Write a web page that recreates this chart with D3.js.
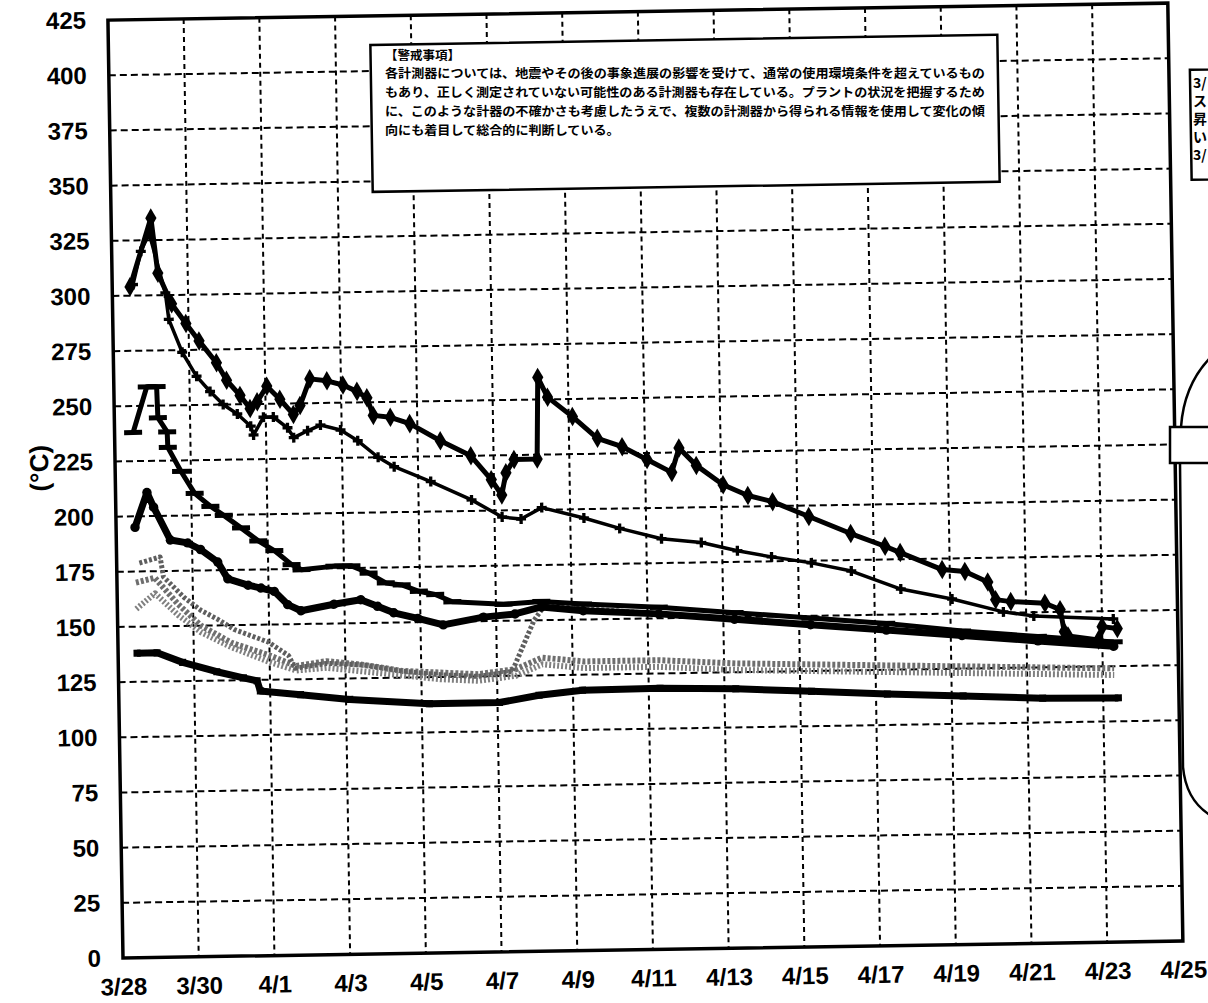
<!DOCTYPE html>
<html>
<head>
<meta charset="utf-8">
<script src="https://cdn.jsdelivr.net/npm/d3@7"></script>
<style>
  body { margin: 0; background: #fff; }
  text { font-family: "Liberation Sans", Arial, sans-serif; font-weight: bold; fill: #000; }
  .jp { font-family: "Noto Sans CJK JP", sans-serif; }
</style>
</head>
<body>
<div id="chart"></div>
<script>
/* DATA (days counted from 3/28 0:00) */
const dayTicks = [0, 2, 4, 6, 8, 10, 12, 14, 16, 18, 20, 22, 24, 26, 28];
const dayLabels = ['3/28', '3/30', '4/1', '4/3', '4/5', '4/7', '4/9', '4/11', '4/13', '4/15', '4/17', '4/19', '4/21', '4/23', '4/25'];
const tempTicks = [0, 25, 50, 75, 100, 125, 150, 175, 200, 225, 250, 275, 300, 325, 350, 375, 400, 425];

const aDays = [0.47, 1.05, 1.21, 1.56, 1.93, 2.27, 2.72, 2.98, 3.33, 3.59, 3.78, 4.04, 4.38, 4.73, 4.91, 5.18, 5.63, 6.05, 6.42, 6.68, 6.84, 7.29, 7.8, 8.6, 9.4, 9.93, 10.2, 10.32, 10.54, 11.15, 11.2, 11.45, 12.1, 12.75, 13.4, 14.05, 14.7, 14.9, 15.35, 16.05, 16.7, 17.35, 18.3, 19.4, 20.3, 20.7, 21.8, 22.4, 23.0, 23.2, 23.6, 24.5, 24.9, 25.0, 25.1, 25.9, 26.0, 26.4];
const aTemps = [304, 335, 310, 296, 287, 279, 269, 261, 254, 248, 251, 258, 252, 245, 249, 261, 260, 258, 255, 252, 244, 243, 240, 232, 225, 214, 207, 217, 223, 223, 260, 251, 242, 232, 228, 222, 216, 227, 219, 210, 205, 202, 195, 187, 181, 178, 170, 169, 164, 156, 155, 154, 151, 141, 139, 137, 143, 142];

const bDays = [0.55, 0.77, 1.0, 1.4, 1.48, 1.82, 2.19, 2.54, 2.88, 3.25, 3.6, 3.67, 3.94, 4.2, 4.57, 4.73, 5.1, 5.44, 5.97, 6.42, 6.95, 7.37, 8.33, 9.4, 10.2, 10.7, 11.25, 12.36, 13.3, 14.4, 15.45, 16.4, 17.3, 18.35, 19.4, 20.7, 22.05, 23.4, 24.2, 26.3];
const bTemps = [305, 320, 328, 301, 289, 274, 263, 256, 250, 245.6, 240, 236, 244, 244, 239, 234.5, 237.5, 240, 237.6, 232.6, 225, 220.6, 213.6, 205, 197, 196, 201, 196, 191, 186, 184, 180, 177, 174, 170, 161.5, 156.6, 150.4, 148.3, 146.4];

const cDays = [0.49, 0.87, 1.13, 1.15, 1.39, 1.4, 1.74, 2.09, 2.5, 2.85, 3.3, 3.75, 4.17, 4.62, 4.88, 5.75, 6.2, 6.65, 7.1, 7.52, 7.97, 8.4, 8.85, 10.2, 11.2, 12.3, 14.3, 16.3, 18.3, 20.3, 22.3, 24.3, 26.3];
const cTemps = [238, 258.6, 258.6, 244.5, 238, 231, 220, 210, 204, 199.8, 194, 188, 183.5, 177, 174.6, 176, 176, 172.6, 168, 167, 164, 162.4, 159, 157.5, 158.5, 157, 155, 152, 149, 146, 142, 139, 136];

const dDays = [0.5, 0.83, 1.0, 1.43, 1.88, 2.22, 2.67, 2.93, 3.46, 3.8, 4.15, 4.5, 4.85, 5.72, 6.43, 6.87, 7.3, 7.93, 8.6, 9.66, 10.5, 11.2, 12.3, 14.3, 16.3, 18.3, 20.3, 22.3, 24.3, 26.3];
const dTemps = [195, 210.7, 204, 189, 187.6, 184.5, 178.7, 171, 168, 166.6, 165, 158.9, 156, 158.7, 160.6, 157.5, 154.4, 151.7, 148.6, 151.8, 153, 156, 154, 152, 149, 146, 143, 140, 137, 134];

const eDays = [0.6, 1.15, 1.23, 1.76, 2.2, 2.66, 3.08, 3.53, 3.98, 4.5, 4.67, 5.5, 6.5, 7.5, 8.5, 9.5, 10.4, 11.0, 11.3, 12.3, 14.3, 16.3, 18.3, 20.3, 22.3, 24.3, 26.3];
const eTemps = [178.8, 181.4, 172.4, 163, 157, 152.6, 148, 145, 142, 135.8, 130, 132, 131, 128, 126, 125, 127, 150, 157, 155, 152, 149, 146, 143, 140, 137, 134];

const gDays = [0.5, 1.0, 1.6, 2.2, 3.0, 4.0, 4.7, 5.5, 6.5, 7.5, 8.5, 9.5, 10.5, 11.2, 12.3, 14.3, 16.3, 18.3, 20.3, 22.3, 24.3, 26.3];
const gTemps = [170, 172, 160, 150, 142, 136, 131, 133, 131, 128, 127, 126, 128, 133, 131, 131, 129, 128, 127, 126, 125, 124];

const hDays = [0.5, 1.0, 1.6, 2.2, 3.0, 4.0, 4.7, 5.5, 6.5, 7.5, 8.5, 9.5, 10.5, 11.2, 12.3, 14.3, 16.3, 18.3, 20.3, 22.3, 24.3, 26.3];
const hTemps = [158, 165, 155, 147, 140, 133, 129, 130, 128, 126, 124, 123, 125, 130, 128, 128, 126, 125, 124, 123, 122, 121];

const fDays = [0.5, 1.03, 1.7, 2.6, 3.3, 3.66, 3.74, 4.8, 6.1, 8.2, 10.05, 11.1, 12.25, 14.3, 16.3, 18.3, 20.3, 22.3, 24.4, 26.4];
const fTemps = [138, 138, 133.5, 129, 126, 124.6, 120, 118, 115.5, 113, 113, 116, 118, 118.3, 117.5, 115.8, 114, 112.6, 111, 110.6];

const noteTitle = '【警戒事項】';
const noteLines = [
  '各計測器については、地震やその後の事象進展の影響を受けて、通常の使用環境条件を超えているもの',
  'もあり、正しく測定されていない可能性のある計測器も存在している。プラントの状況を把握するため',
  'に、このような計器の不確かさも考慮したうえで、複数の計測器から得られる情報を使用して変化の傾',
  '向にも着目して総合的に判断している。'
];
const sideLines = ['3/', 'ス', '昇', 'い', '3/'];

/* LAYOUT */
const W = 1060, H = 938;

const svg = d3.select('#chart')
  .append('svg')
  .attr('width', 1208)
  .attr('height', 1003);

// the scanned page is tilted a little, so the whole chart is turned to match
const g = svg.append('g')
  .attr('transform', `translate(123,958) rotate(-0.92) translate(0,${-H})`);

const x = d3.scaleLinear().domain([0, 28]).range([0, W]);
const y = d3.scaleLinear().domain([0, 425]).range([H, 0]);

// grid
g.append('g')
  .selectAll('line')
  .data(tempTicks.slice(1, -1))
  .join('line')
  .attr('x1', 0).attr('x2', W)
  .attr('y1', d => y(d)).attr('y2', d => y(d))
  .attr('stroke', '#000').attr('stroke-width', 2)
  .attr('stroke-dasharray', '7,4');

g.append('g')
  .selectAll('line')
  .data(dayTicks.slice(1, -1))
  .join('line')
  .attr('x1', d => x(d)).attr('x2', d => x(d))
  .attr('y1', 0).attr('y2', H)
  .attr('stroke', '#000').attr('stroke-width', 2)
  .attr('stroke-dasharray', '5,4');

// axes
const yAxis = g.append('g').call(d3.axisLeft(y).tickValues(tempTicks).tickSize(0).tickPadding(22));
yAxis.select('.domain').remove();
yAxis.selectAll('text').attr('font-size', 24).attr('font-family', '"Liberation Sans", Arial, sans-serif');

const xAxis = g.append('g')
  .attr('transform', `translate(0,${H})`)
  .call(d3.axisBottom(x).tickValues(dayTicks).tickFormat((d, i) => dayLabels[i]).tickSize(0).tickPadding(20));
xAxis.select('.domain').remove();
xAxis.selectAll('text').attr('font-size', 24).attr('font-family', '"Liberation Sans", Arial, sans-serif');

g.append('text')
  .attr('transform', `translate(-76,${H / 2 - 22}) rotate(-90)`)
  .attr('text-anchor', 'middle')
  .attr('dy', '0.35em')
  .attr('font-size', 26)
  .text('(°C)');

// series
const line = d3.line().x(d => x(d[0])).y(d => y(d[1]));

function series(days, temps, stroke, width, dash) {
  const pts = days.map((d, i) => [d, temps[i]]);
  g.append('path')
    .datum(pts)
    .attr('d', line)
    .attr('fill', 'none')
    .attr('stroke', stroke)
    .attr('stroke-width', width)
    .attr('stroke-linejoin', 'round')
    .attr('stroke-dasharray', dash || null);
  return pts;
}

function symbols(pts, type, size) {
  g.append('g')
    .selectAll('path')
    .data(pts)
    .join('path')
    .attr('transform', d => `translate(${x(d[0])},${y(d[1])})`)
    .attr('d', d3.symbol().type(type).size(size))
    .attr('fill', '#000');
}

// grey hatched ones first
series(gDays, gTemps, '#6e6e6e', 6, '3,2');
series(hDays, hTemps, '#808080', 6, '2,2');
series(eDays, eTemps, '#5e5e5e', 5, '3,2');

const fPts = series(fDays, fTemps, '#000', 7);
symbols(fPts, d3.symbolSquare, 50);

const dPts = series(dDays, dTemps, '#000', 7);
symbols(dPts, d3.symbolCircle, 70);

const cPts = series(cDays, cTemps, '#000', 5);
g.append('g')
  .selectAll('line')
  .data(cPts)
  .join('line')
  .attr('x1', d => x(d[0]) - 9).attr('x2', d => x(d[0]) + 9)
  .attr('y1', d => y(d[1])).attr('y2', d => y(d[1]))
  .attr('stroke', '#000').attr('stroke-width', 5);

const bPts = series(bDays, bTemps, '#000', 3.5);
symbols(bPts, d3.symbolCross, 55);

const aPts = series(aDays, aTemps, '#000', 5);
symbols(aPts, d3.symbolDiamond, 110);

// note box (frame follows the tilt, the text is set straight)
g.append('rect')
  .attr('x', 262).attr('y', 29)
  .attr('width', 627).attr('height', 147)
  .attr('fill', '#fff').attr('stroke', '#000').attr('stroke-width', 2.5);

svg.append('text')
  .attr('class', 'jp')
  .attr('x', 385).attr('y', 60)
  .attr('font-size', 12.5)
  .text(noteTitle);
svg.append('g')
  .selectAll('text')
  .data(noteLines)
  .join('text')
  .attr('class', 'jp')
  .attr('x', 385)
  .attr('y', (d, i) => 78 + i * 19)
  .attr('font-size', 12.5)
  .attr('textLength', d => d.length * 13.04)
  .attr('lengthAdjust', 'spacingAndGlyphs')
  .text(d => d);

// plot frame
g.append('rect')
  .attr('width', W).attr('height', H)
  .attr('fill', 'none').attr('stroke', '#000').attr('stroke-width', 3.5);

// side note box, cut off by the page edge
g.append('rect')
  .attr('x', 1081).attr('y', 67)
  .attr('width', 200).attr('height', 110)
  .attr('fill', '#fff').attr('stroke', '#000').attr('stroke-width', 2.5);
svg.append('g')
  .selectAll('text')
  .data(sideLines)
  .join('text')
  .attr('class', 'jp')
  .attr('x', 1193)
  .attr('y', (d, i) => 88 + i * 18)
  .attr('font-size', 14)
  .text(d => d);

// vessel sketch at the right edge
const vessel = svg.append('g')
  .attr('fill', 'none').attr('stroke', '#000').attr('stroke-width', 2.5);
vessel.append('path').attr('d', 'M1210,358 Q1184,385 1181,427');
vessel.append('path').attr('d', 'M1180,463 L1183,767 Q1186,800 1210,815');
vessel.append('rect')
  .attr('x', 1170).attr('y', 427).attr('width', 50).attr('height', 36)
  .attr('fill', '#fff');
</script>
</body>
</html>
